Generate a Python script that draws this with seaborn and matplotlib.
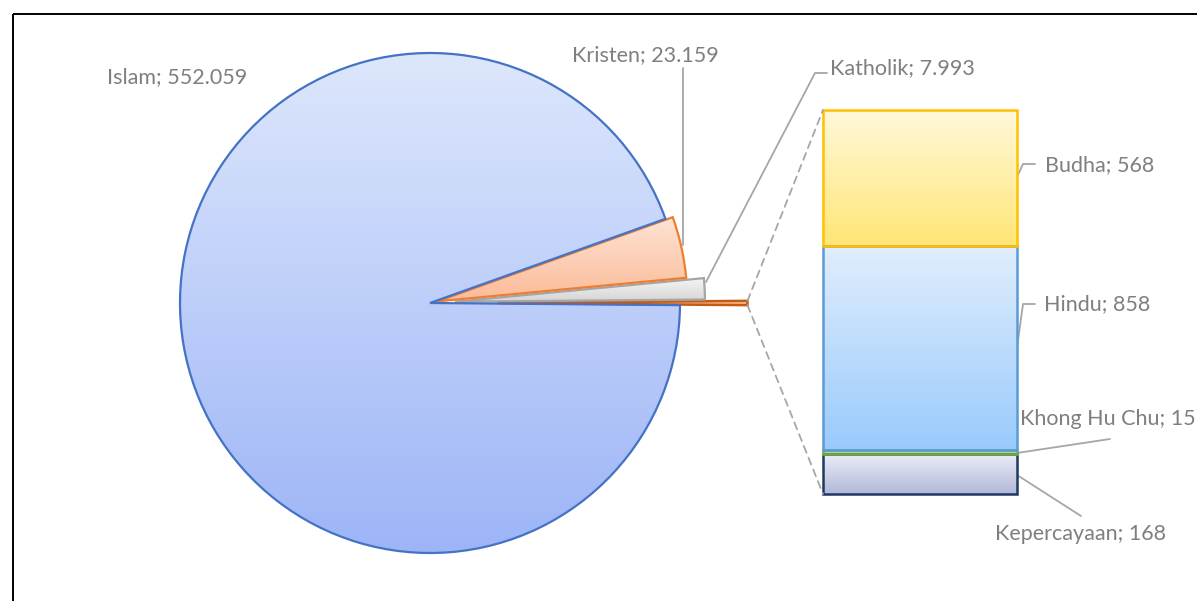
import numpy as np
import matplotlib
matplotlib.use("Agg")
import matplotlib.pyplot as plt
import seaborn as sns
from matplotlib.colors import to_rgb
from matplotlib.patches import Rectangle, ConnectionPatch

# ---------------- data ----------------
pie_labels = ["Islam", "Kristen", "Katholik"]
pie_values = [552059, 23159, 7993]
bar_labels = ["Budha", "Hindu", "Khong Hu Chu", "Kepercayaan"]
bar_values = [568, 858, 15, 168]
other_total = sum(bar_values)


def fmt(v):
    return f"{v:,}".replace(",", ".")


sns.set_theme(style="white")
plt.rcParams['font.family'] = ['Lato', 'DejaVu Sans']

W, H = 1197, 601
fig = plt.figure(figsize=(W / 100, H / 100), dpi=100)
fig.patch.set_facecolor("white")
ax = fig.add_axes([0, 0, 1, 1])

TXT = "#7f7f7f"
FS = 15.5


def grad_fill(a, patch, c_top, c_bot):
    bb = patch.get_path().get_extents(patch.get_patch_transform())
    x0, x1 = bb.x0, bb.x1
    ylo, yhi = bb.y0, bb.y1
    inverted = a.yaxis_inverted()
    ytop, ybot = (ylo, yhi) if inverted else (yhi, ylo)
    t = np.linspace(0, 1, 256)[:, None]
    ca, cb = np.array(to_rgb(c_top)), np.array(to_rgb(c_bot))
    img = (ca * (1 - t) + cb * t)[:, None, :]
    im = a.imshow(img, extent=(x0, x1, ybot, ytop), origin="upper",
                  aspect="auto", zorder=patch.get_zorder() - 0.05,
                  interpolation="bilinear")
    im.set_clip_path(patch)
    patch.set_facecolor("none")
    return im


# ---------------- pie ----------------
R = 250
# visual counter-clockwise order starting at 3 o'clock: Other, Katholik, Kristen, Islam
vals = [other_total, pie_values[2], pie_values[1], pie_values[0]]
explode = [0.27 * R, 0.1 * R, 0.03 * R, 0.0]
start = 180.0 * other_total / sum(vals)
wedges, _ = ax.pie(vals, explode=explode, startangle=start, counterclock=False,
                   center=(430, 303), radius=R, frame=True)
ax.set_xlim(0, W)
ax.set_ylim(H, 0)

w_other, w_kath, w_kris, w_islam = wedges
styles = [
    (w_islam, "#dde7fc", "#9db5f7", "#4472c4", 1.6),
    (w_kris, "#fde4d5", "#fbbb98", "#ed7d31", 1.6),
    (w_kath, "#f5f5f5", "#d4d4d4", "#a5a5a5", 1.6),
    (w_other, "#f8cbad", "#f4b183", "#c55a11", 1.8),
]
for w, ct, cb, ec, lw in styles:
    w.set_edgecolor(ec)
    w.set_linewidth(lw)
    w.set_zorder(2)
    grad_fill(ax, w, ct, cb)

# ---------------- bar of "other" ----------------
bax = fig.add_axes([823 / W, (H - 494) / H, 194 / W, 384 / H])
stack_labels = bar_labels[::-1]
stack_vals = np.array(bar_values[::-1])
bottoms = np.concatenate([[0], np.cumsum(stack_vals)[:-1]])
bars = bax.bar([0] * len(stack_vals), stack_vals, bottom=bottoms, width=1.0)
bstyle = {
    "Kepercayaan": ("#eceef7", "#b2b8d8", "#203864"),
    "Khong Hu Chu": ("#c5e0b4", "#a9d18e", "#70ad47"),
    "Hindu": ("#e1eefd", "#99cafc", "#5b9bd5"),
    "Budha": ("#fff8da", "#ffe676", "#ffc000"),
}
bax.set_xlim(-0.5, 0.5)
bax.set_ylim(0, other_total)
for b, lab in zip(bars, stack_labels):
    ct, cb, ec = bstyle[lab]
    b.set_edgecolor(ec)
    b.set_linewidth(1.8)
    b.set_clip_on(False)
    b.set_zorder(2)
    grad_fill(bax, b, ct, cb)
bax.set_xlim(-0.5, 0.5)
bax.set_ylim(0, other_total)
bax.axis("off")
bax.patch.set_alpha(0)

# connectors from exploded slice to bar
cx, cy = w_other.center
r = w_other.r
for th, yb in [(w_other.theta1, other_total), (w_other.theta2, 0)]:
    px = cx + r * np.cos(np.deg2rad(th))
    py = cy + r * np.sin(np.deg2rad(th))
    con = ConnectionPatch(xyA=(px, py), coordsA=ax.transData,
                          xyB=(-0.5, yb), coordsB=bax.transData,
                          color="#a6a6a6", lw=1.3, linestyle=(0, (4, 3)))
    fig.add_artist(con)

ax.set_xlim(0, W)
ax.set_ylim(H, 0)
ax.set_aspect("auto")
ax.axis("off")

# ---------------- labels ----------------
lead_kw = dict(color="#a6a6a6", lw=1.3, zorder=3)
ax.text(107, 77, f"{pie_labels[0]}; {fmt(pie_values[0])}", ha="left", va="center",
        color=TXT, fontsize=FS)
ax.text(572, 55, f"{pie_labels[1]}; {fmt(pie_values[1])}", ha="left", va="center",
        color=TXT, fontsize=FS)
ax.plot([683, 683], [68, 245], **lead_kw)
ax.text(830, 68, f"{pie_labels[2]}; {fmt(pie_values[2])}", ha="left", va="center",
        color=TXT, fontsize=FS)
ax.plot([706, 815, 827], [282, 73, 73], **lead_kw)

ax.text(1045, 165, f"{bar_labels[0]}; {fmt(bar_values[0])}", ha="left", va="center",
        color=TXT, fontsize=FS)
ax.plot([1017, 1023, 1035], [177, 164, 164], **lead_kw)
ax.text(1044, 304, f"{bar_labels[1]}; {fmt(bar_values[1])}", ha="left", va="center",
        color=TXT, fontsize=FS)
ax.plot([1017, 1023, 1035], [348, 304, 304], **lead_kw)
ax.text(1020, 419, f"{bar_labels[2]}; {fmt(bar_values[2])}", ha="left", va="center",
        color=TXT, fontsize=FS)
ax.plot([1017, 1110], [453, 439], **lead_kw)
ax.text(995, 534, f"{bar_labels[3]}; {fmt(bar_values[3])}", ha="left", va="center",
        color=TXT, fontsize=FS)
ax.plot([1017, 1081], [475, 516], **lead_kw)

# chart frame (partially cropped in the reference)
ax.add_patch(Rectangle((12.5, 14), 1400, 800, fill=False, edgecolor="black",
                       lw=1.4, clip_on=False, zorder=5))

fig.savefig("out.png", dpi=100, facecolor="white")
